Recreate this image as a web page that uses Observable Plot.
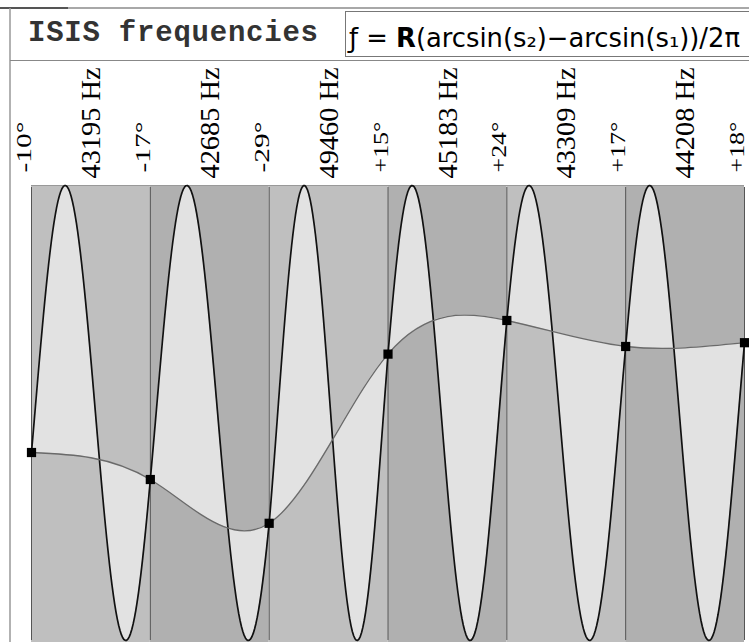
<!DOCTYPE html>
<html><head><meta charset="utf-8">
<script src="https://cdn.jsdelivr.net/npm/d3@7"></script>
<script src="https://cdn.jsdelivr.net/npm/@observablehq/plot@0.6"></script>
<style>
html,body{margin:0;padding:0;background:#fff;}
#wrap{position:relative;width:749px;height:642px;overflow:hidden;background:#fff;}
#head{position:absolute;left:0;top:0;}
#chart{position:absolute;left:0;top:60px;}
#chart text.lbl{font-family:"Liberation Serif","Times New Roman",serif !important;}
</style></head><body>
<div id="wrap">
<svg id="head" width="749" height="642">
  <line x1="0" y1="8" x2="749" y2="8" stroke="#a8a8a8" stroke-width="2"/>
  <line x1="0" y1="8" x2="68" y2="8" stroke="#555" stroke-width="2"/>
  <line x1="10" y1="8" x2="10" y2="642" stroke="#999" stroke-width="1.5"/>
  <line x1="10" y1="60.5" x2="749" y2="60.5" stroke="#888" stroke-width="1"/>
  <rect x="345.5" y="11.5" width="420" height="45" fill="#fff" stroke="#777"/>
  <text x="28" y="41" font-family="Liberation Mono" font-weight="bold" font-size="29" fill="#333" textLength="290" lengthAdjust="spacing">ISIS frequencies</text>
  <text x="349" y="47" font-family="DejaVu Sans" font-size="26" fill="#000" textLength="391" lengthAdjust="spacingAndGlyphs">ƒ = <tspan font-weight="bold">R</tspan>(arcsin(s₂)−arcsin(s₁))/2π</text>
</svg>
<div id="chart"></div>
</div>
<script>
// boundary phase angles (degrees) and labels
const angles = [-10, -17, -29, 15, 24, 17, 18];
const angleLabels = ["-10°", "-17°", "-29°", "+15°", "+24°", "+17°", "+18°"];
const freqLabels = ["43195 Hz", "42685 Hz", "49460 Hz", "45183 Hz", "43309 Hz", "44208 Hz"];
const panelShade = ["light", "dark", "light", "dark", "light", "dark"];

const rad = d => d * Math.PI / 180;
const points = angles.map((a, i) => ({x: i, s: Math.sin(rad(a))}));
const panels = freqLabels.map((f, i) => ({x1: i, x2: i + 1, shade: panelShade[i]}));
// one full cycle (plus phase change) per panel, as defined by the boundary angles
const wave = [];
const N = 90;
for (let i = 0; i < freqLabels.length; i++) {
  const a = rad(angles[i]), b = rad(angles[i + 1]) + 2 * Math.PI;
  for (let k = (i === 0 ? 0 : 1); k <= N; k++) {
    const t = k / N;
    wave.push({x: i + t, s: Math.sin(a + t * (b - a))});
  }
}

const serif = "Liberation Serif, Times New Roman, serif";
const plot = Plot.plot({
  width: 749, height: 582,
  marginTop: 125, marginBottom: 2, marginLeft: 31, marginRight: 5,
  x: {domain: [0, 6], axis: null},
  y: {domain: [-1, 1], axis: null},
  color: {domain: ["light", "dark"], range: ["#bfbfbf", "#b0b0b0"]},
  style: {background: "transparent", overflow: "visible"},
  marks: [
    Plot.rect(panels, {x1: "x1", x2: "x2", y1: -1, y2: 1, fill: "shade", insetBottom: -2}),
    Plot.areaY(wave, {x: "x", y1: -1, y2: "s", fill: "#e2e2e2"}),
    Plot.areaY(points, {x: "x", y1: -1, y2: "s", curve: "natural", fill: "#e2e2e2"}),
    Plot.ruleY([1], {stroke: "#999"}),
    Plot.ruleX(points, {x: "x", y1: -1, y2: 1, insetBottom: -2, stroke: "#555"}),
    Plot.line(wave, {x: "x", y: "s", stroke: "#111", strokeWidth: 1.7}),
    Plot.line(points, {x: "x", y: "s", curve: "natural", stroke: "#6a6a6a", strokeWidth: 1.3}),
    Plot.dot(points, {x: "x", y: "s", symbol: "square", r: 5.2, fill: "#000", stroke: "none"}),
    Plot.text(freqLabels, {x: (d, i) => i + 0.5, frameAnchor: "top", rotate: -90, textAnchor: "start",
      dx: -10, dy: -7, fontFamily: serif, fontSize: 27, fill: "#000"}),
    Plot.text(angleLabels, {x: (d, i) => i, frameAnchor: "top", rotate: -90, textAnchor: "start",
      dx: -16, dy: -13, fontFamily: serif, fontSize: 22, fill: "#000"})
  ]
});

// fill the region between the wave and the smooth curve (symmetric difference)
const areas = plot.querySelectorAll('g[aria-label="area"]');
if (areas.length === 2) {
  const p1 = areas[0].querySelector("path"), p2 = areas[1].querySelector("path");
  p1.setAttribute("d", p1.getAttribute("d") + p2.getAttribute("d"));
  p1.setAttribute("fill-rule", "evenodd");
  areas[1].remove();
}
const tg = plot.querySelectorAll('g[aria-label="text"]');
if (tg.length === 2) {
  tg[0].querySelectorAll("text").forEach(t => { t.classList.add("lbl"); t.setAttribute("textLength", 111); t.setAttribute("lengthAdjust", "spacingAndGlyphs"); });
  tg[1].querySelectorAll("text").forEach(t => { t.classList.add("lbl"); t.setAttribute("textLength", 51); t.setAttribute("lengthAdjust", "spacingAndGlyphs"); });
}
document.getElementById("chart").appendChild(plot);
</script>
</body></html>
